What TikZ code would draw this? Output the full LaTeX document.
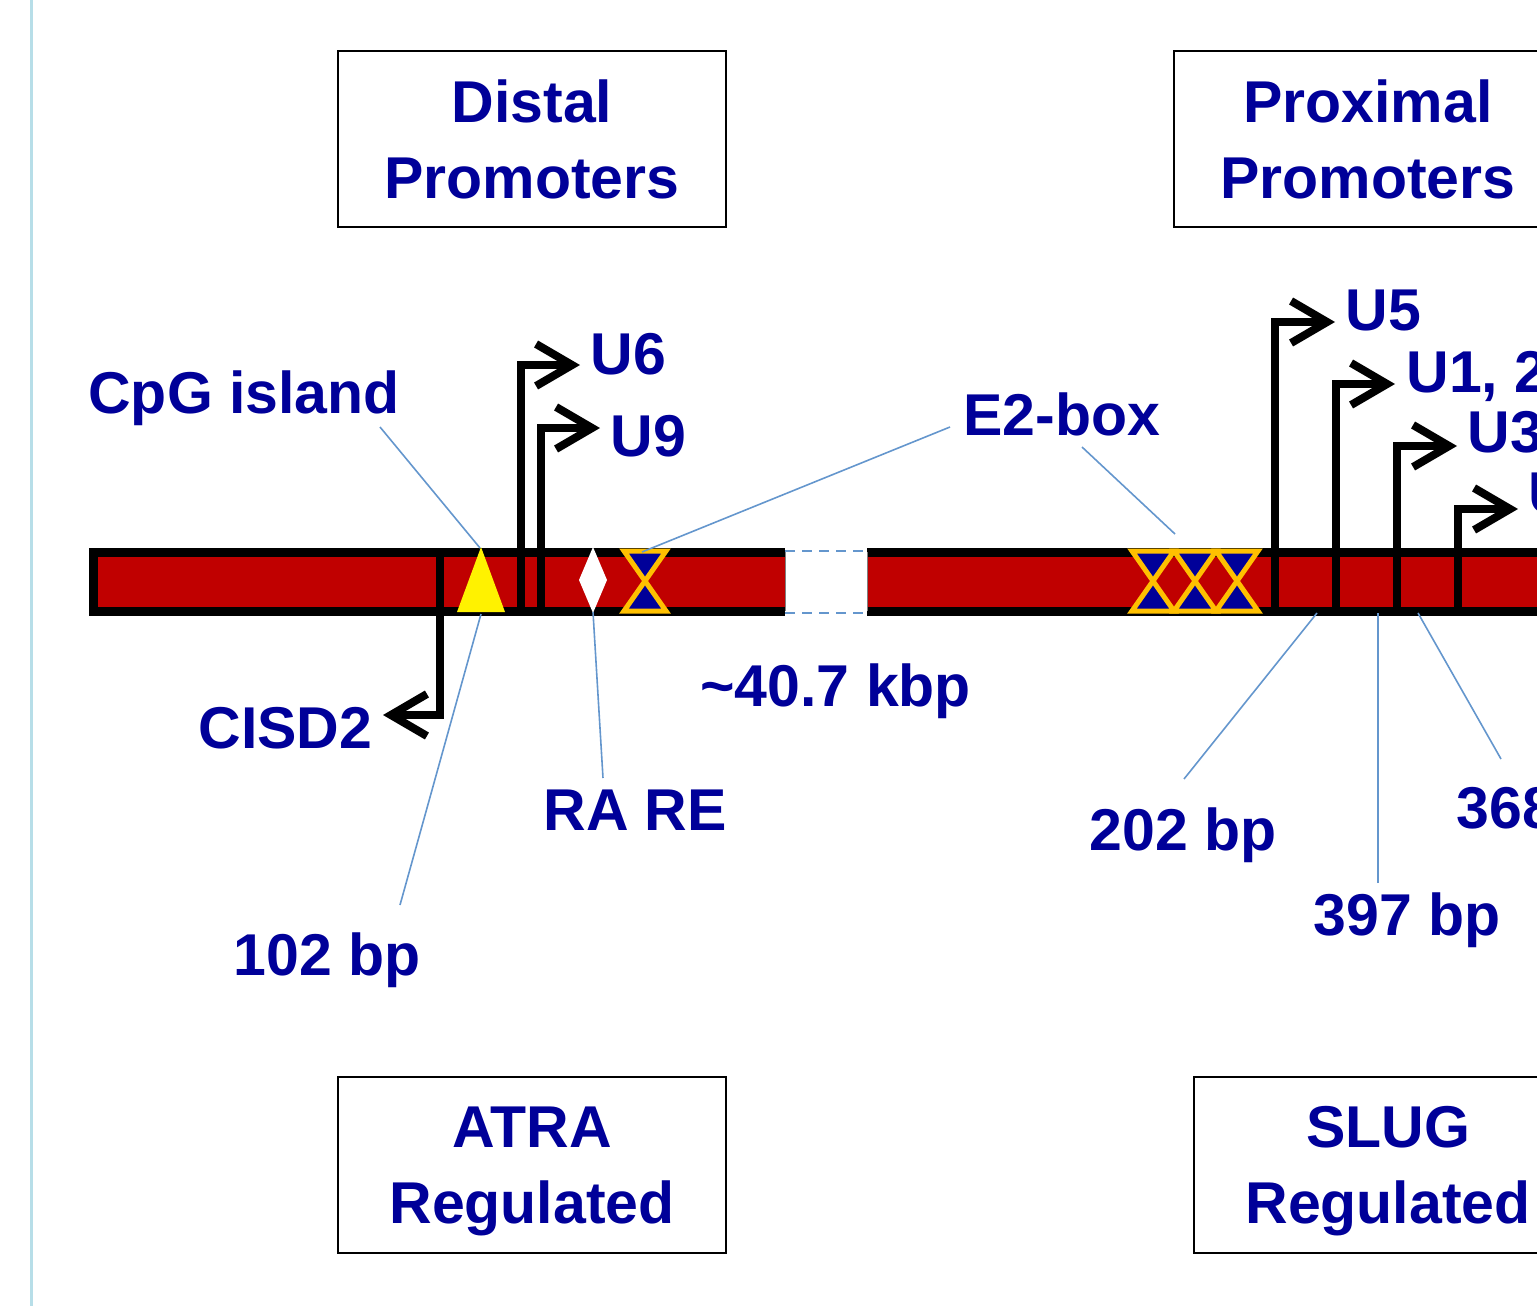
\documentclass[tikz,border=0pt]{standalone}
\usepackage{fontspec}
\setmainfont{Liberation Sans}
\usetikzlibrary{arrows.meta}

\definecolor{labelblue}{RGB}{0,0,153}
\definecolor{genered}{RGB}{192,0,0}
\definecolor{eboxorange}{RGB}{255,192,0}
\definecolor{leaderblue}{RGB}{100,150,205}
\definecolor{edgeblue}{RGB}{183,222,232}

\newcommand\lblfont{\bfseries\fontsize{29.5}{38}\selectfont}

\tikzset{
  lbl/.style={font=\lblfont, text=labelblue, inner sep=0pt, anchor=base west},
  titlebox/.style={draw, line width=1pt, minimum width=194pt, minimum height=88pt,
    align=center, font=\lblfont, text=labelblue, inner sep=0pt, text depth=0pt},
  tss/.style={line width=4pt, -{Straight Barb[length=18pt,width=21pt,line width=4pt]}},
  leader/.style={leaderblue, line width=0.8pt},
  gapline/.style={leaderblue, line width=1pt, dash pattern=on 5pt off 3.5pt},
}

\begin{document}
\begin{tikzpicture}[x=0.5pt,y=-0.5pt,line join=miter]
 \useasboundingbox (0,0) rectangle (1537,1306);
 \clip (0,0) rectangle (1537,1306);
 \draw[edgeblue, line width=1.5pt] (31,0) -- (31,1306);

 % boxes
 \node[titlebox] (distal) at (532,139) {Distal\\Promoters};
 \node[titlebox] (proximal) at (1368,139) {Proximal\\Promoters};
 \node[titlebox] (atra) at (532,1165) {ATRA\\Regulated};
 \node[titlebox] (slug) at (1388,1165) {SLUG\\Regulated};

 % gene bar
 \fill[genered] (93,552) rectangle (785,611);
 \fill[genered] (867,552) rectangle (1560,611);
 \draw[line width=4.5pt] (785,552) -- (93,552) -- (93,611) -- (785,611);
 \draw[line width=4.5pt] (867,552) -- (1560,552) (867,611) -- (1560,611);
 \draw[gray, line width=0.5pt] (785,552) -- (785,611) (867,552) -- (867,611);
 \draw[gapline] (785,551) -- (867,551);
 \draw[gapline] (785,613) -- (867,613);

 % transcription starts
 \coordinate (cisd-foot) at (440,550);
 \coordinate (cisd-tip) at (383,715);
 \draw[tss] (cisd-foot) |- (cisd-tip);
 \foreach \n/\sx/\ty/\tx in {u6/521/365/580, u9/541/428/600, u5/1275/322/1335,
   u12/1336/384/1395, u3/1397/446/1457, u4/1458/509/1518}{
   \coordinate (\n-foot) at (\sx,613);
   \coordinate (\n-tip) at (\tx,\ty);
   \draw[tss] (\n-foot) |- (\n-tip);
 }

 % CpG island and RA RE
 \fill[yellow] (481,547) -- (505,612) -- (457,612) -- cycle;
 \fill[white] (593,547) -- (607,580) -- (593,613) -- (579,580) -- cycle;

 % E2-boxes
 \foreach \x in {624,1132,1174,1216}{
   \fill[labelblue] (\x,551) -- ++(42,0) -- ++(-21,30) -- cycle;
   \fill[labelblue] (\x,611) -- ++(42,0) -- ++(-21,-30) -- cycle;
   \draw[eboxorange, line width=2.5pt] (\x,551) -- ++(42,0) -- ++(-42,60) -- ++(42,0) -- cycle;
 }

 % labels
 \node[lbl] (cpg) at (88,413) {CpG island};
 \node[lbl] (U6) at (590,374) {U6};
 \node[lbl] (U9) at (610,456) {U9};
 \node[lbl] (e2) at (963,435) {E2-box};
 \node[lbl] (U5) at (1345,330) {U5};
 \node[lbl] (U12) at (1406,392) {U1, 2};
 \node[lbl] (U3) at (1467,452) {U3};
 \node[lbl] (U4) at (1528,513) {U4};
 \node[lbl] (cisd) at (198,748) {CISD2};
 \node[lbl] (kbp) at (700,706) {\textasciitilde40.7 kbp};
 \node[lbl] (rare) at (543,830) {RA RE};
 \node[lbl] (bp102) at (233,975) {102 bp};
 \node[lbl] (bp202) at (1089,850) {202 bp};
 \node[lbl] (bp397) at (1313,935) {397 bp};
 \node[lbl] (bp368) at (1456,828) {368 bp};

 % leader lines
 \coordinate (cpg-tail) at (380,427);
 \coordinate (cpg-head) at (480,548);
 \coordinate (e2A-tail) at (950,427);
 \coordinate (e2A-head) at (642,552);
 \coordinate (e2B-tail) at (1082,447);
 \coordinate (e2B-head) at (1175,534);
 \coordinate (bp102-tail) at (400,905);
 \coordinate (bp102-head) at (481,614);
 \coordinate (rare-tail) at (603,778);
 \coordinate (rare-head) at (593,612);
 \coordinate (bp202-tail) at (1184,779);
 \coordinate (bp202-head) at (1317,613);
 \coordinate (bp397-tail) at (1378,883);
 \coordinate (bp397-head) at (1378,613);
 \coordinate (bp368-tail) at (1501,759);
 \coordinate (bp368-head) at (1418,613);
 \foreach \n in {cpg,e2A,e2B,bp102,rare,bp202,bp397,bp368}{
   \draw[leader] (\n-tail) -- (\n-head);
 }
\end{tikzpicture}
\end{document}
